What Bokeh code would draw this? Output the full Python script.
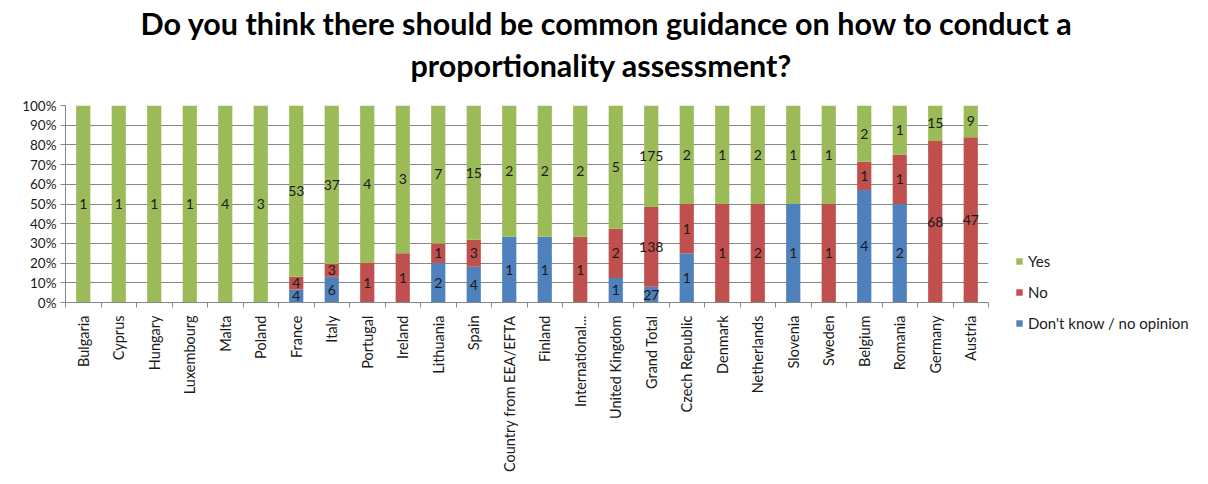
import math
from bokeh.plotting import figure
from bokeh.models import (ColumnDataSource, FixedTicker, Legend, LegendItem,
                          Title, Range1d, NumeralTickFormatter)
from bokeh.core.properties import value
from bokeh.embed import file_html
from bokeh.resources import INLINE

categories = ["Bulgaria", "Cyprus", "Hungary", "Luxembourg", "Malta", "Poland",
              "France", "Italy", "Portugal", "Ireland", "Lithuania", "Spain",
              "Country from EEA/EFTA", "Finland", "International...",
              "United Kingdom", "Grand Total", "Czech Republic", "Denmark",
              "Netherlands", "Slovenia", "Sweden", "Belgium", "Romania",
              "Germany", "Austria"]
dont_know = [0, 0, 0, 0, 0, 0, 4, 6, 0, 0, 2, 4, 1, 1, 0, 1, 27, 1, 0, 0, 1, 0, 4, 2, 0, 0]
no = [0, 0, 0, 0, 0, 0, 4, 3, 1, 1, 1, 3, 0, 0, 1, 2, 138, 1, 1, 2, 0, 1, 1, 1, 68, 47]
yes = [1, 1, 1, 1, 4, 3, 53, 37, 4, 3, 7, 15, 2, 2, 2, 5, 175, 2, 1, 2, 1, 1, 2, 1, 15, 9]
y_ticks = [i / 10 for i in range(11)]

GREEN = "#9BBB59"
RED = "#C0504D"
BLUE = "#4F81BD"
FONT = "Lato"

n = len(categories)
xs = list(range(1, n + 1))
tot = [d + a + b for d, a, b in zip(dont_know, no, yes)]
fd = [d / t for d, t in zip(dont_know, tot)]
fn = [a / t for a, t in zip(no, tot)]
fy = [b / t for b, t in zip(yes, tot)]

src = ColumnDataSource(dict(x=xs, d=fd, n=fn, y=fy))

p = figure(frame_width=923, frame_height=197, output_backend="svg",
           toolbar_location=None,
           x_range=Range1d(0.5, n + 0.5), y_range=Range1d(0, 1),
           min_border_left=65, min_border_right=10, min_border_top=6,
           min_border_bottom=0)
p.outline_line_color = None
p.background_fill_color = "white"

rs = p.vbar_stack(["d", "n", "y"], x="x", width=0.4, source=src,
                  color=[BLUE, RED, GREEN], line_color=None)

# labels
lx, ly, lt = [], [], []
for i in range(n):
    base = 0.0
    for cnt, frac in ((dont_know[i], fd[i]), (no[i], fn[i]), (yes[i], fy[i])):
        if cnt > 0:
            lx.append(xs[i])
            ly.append(base + frac / 2)
            lt.append(str(cnt))
        base += frac
lsrc = ColumnDataSource(dict(x=lx, y=ly, t=lt))
p.text(x="x", y="y", text="t", source=lsrc, text_align="center",
       text_baseline="middle", text_font=value(FONT), text_font_size="14px",
       text_color="#1a1a1a")

# axes
p.xaxis.ticker = FixedTicker(ticks=xs, minor_ticks=[i + 0.5 for i in range(n + 1)])
p.xaxis.major_label_overrides = {x: c for x, c in zip(xs, categories)}
p.xaxis.major_label_orientation = math.pi / 2
p.xaxis.major_tick_out = 0
p.xaxis.major_tick_in = 0
p.xaxis.minor_tick_out = 5
p.xaxis.minor_tick_in = 0
p.xaxis.minor_tick_line_color = "#868686"
p.xaxis.axis_line_color = "#868686"
p.xaxis.major_label_text_font = FONT
p.xaxis.major_label_text_font_size = "14.5px"
p.xaxis.major_label_text_color = "#1a1a1a"
p.xaxis.major_label_standoff = 8

p.yaxis.ticker = FixedTicker(ticks=y_ticks)
p.yaxis.formatter = NumeralTickFormatter(format="0%")
p.yaxis.axis_line_color = "#868686"
p.yaxis.major_tick_line_color = "#868686"
p.yaxis.major_tick_out = 5
p.yaxis.major_tick_in = 0
p.yaxis.minor_tick_line_color = None
p.yaxis.major_label_text_font = FONT
p.yaxis.major_label_text_font_size = "13.5px"
p.yaxis.major_label_text_color = "#1a1a1a"
p.yaxis.major_label_standoff = 4

p.xgrid.grid_line_color = None
p.ygrid.grid_line_color = "#868686"
p.ygrid.ticker = FixedTicker(ticks=y_ticks)

# title (two lines) plus a small spacer above the frame
spacer = Title(text=" ", text_font_size="1px", standoff=18)
t2 = Title(text="proportionality assessment?", align="left", offset=345,
           text_font=FONT, text_font_size="30.5px", text_font_style="bold",
           text_color="#000000", standoff=3)
t1 = Title(text="Do you think there should be common guidance on how to conduct a",
           align="left", offset=75, text_font=FONT, text_font_size="30.5px",
           text_font_style="bold", text_color="#000000", standoff=5)
p.add_layout(spacer, "above")
p.add_layout(t2, "above")
p.add_layout(t1, "above")

legend = Legend(items=[LegendItem(label="Yes", renderers=[rs[2]]),
                       LegendItem(label="No", renderers=[rs[1]]),
                       LegendItem(label="Don't know / no opinion", renderers=[rs[0]])],
                location=(27, -30), orientation="vertical",
                label_text_font=FONT, label_text_font_size="15px",
                label_text_color="#1a1a1a", glyph_width=8, glyph_height=8,
                label_height=18, spacing=13, border_line_color=None,
                background_fill_alpha=0, label_standoff=5, padding=0, margin=0)
p.add_layout(legend, "right")

open("out.html", "w").write(file_html(p, INLINE))
